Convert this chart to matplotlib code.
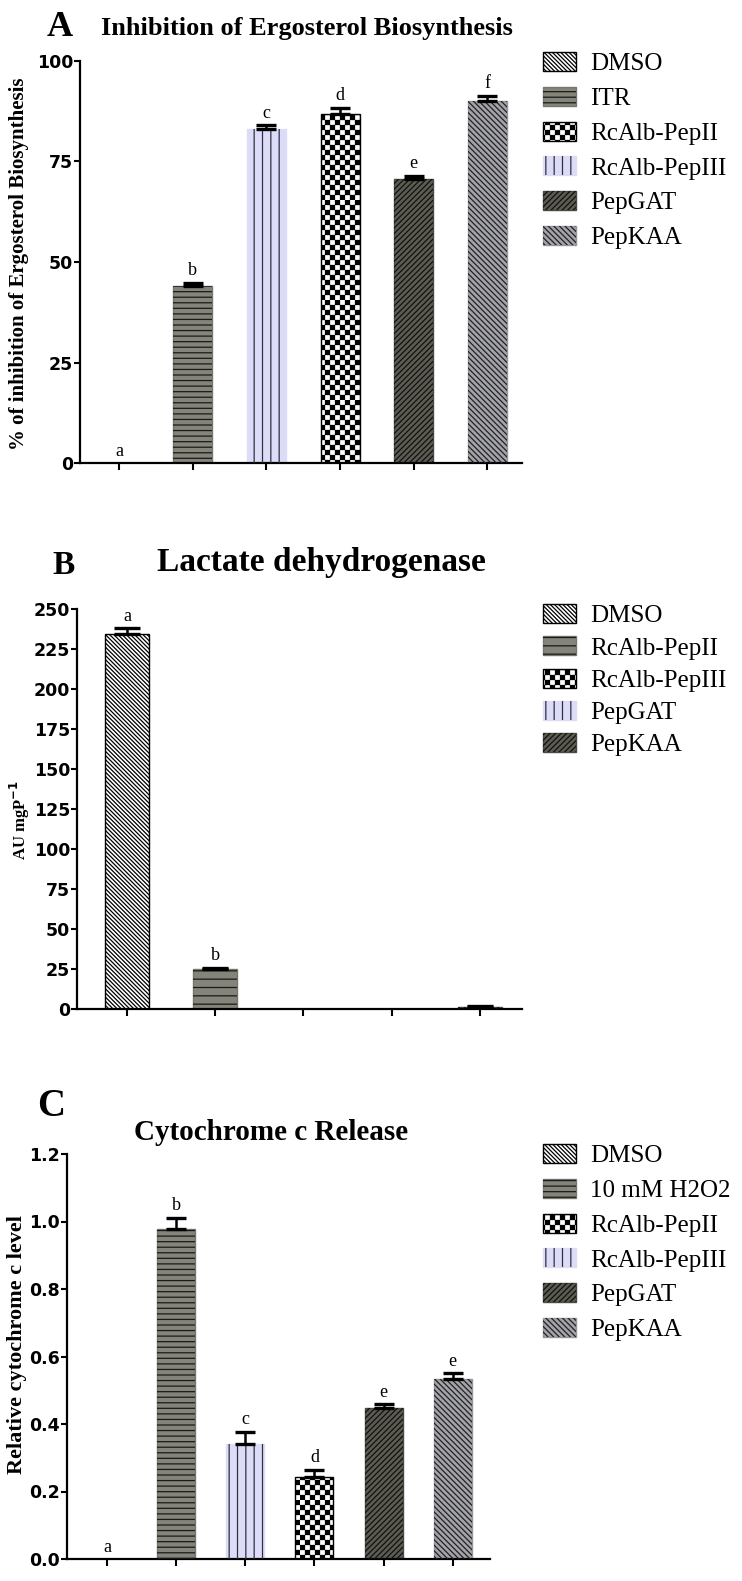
import numpy as np
import matplotlib
matplotlib.use('Agg')
import matplotlib.pyplot as plt
import matplotlib.hatch as mhatch
from matplotlib.path import Path
from matplotlib.patches import Patch
from matplotlib.legend_handler import HandlerTuple

plt.rcParams['hatch.linewidth'] = 0.9
plt.rcParams['font.family'] = ['Liberation Serif', 'DejaVu Serif']

# ---------------- data ----------------
a_title = 'Inhibition of Ergosterol Biosynthesis'
a_ylabel = '% of inhibition of Ergosterol Biosynthesis'
a_legend_labels = ['DMSO', 'ITR', 'RcAlb-PepII', 'RcAlb-PepIII', 'PepGAT', 'PepKAA']
a_legend_styles = ['white_diag', 'gray_horiz', 'checker', 'lavender_vert', 'dark_diag', 'light_diag']
a_bar_styles = ['white_diag', 'gray_horiz', 'lavender_vert', 'checker', 'dark_diag', 'light_diag']
a_values = [0.0, 44.0, 83.1, 86.8, 70.6, 90.1]
a_errors = [0.0, 0.8, 0.9, 1.6, 0.9, 1.3]
a_letters = ['a', 'b', 'c', 'd', 'e', 'f']
a_yticks = [0, 25, 50, 75, 100]

b_title = 'Lactate dehydrogenase'
b_ylabel = 'AU mgP$^{\\mathbf{-1}}$'
b_legend_labels = ['DMSO', 'RcAlb-PepII', 'RcAlb-PepIII', 'PepGAT', 'PepKAA']
b_legend_styles = ['white_diag', 'gray_horiz_sparse', 'checker', 'lavender_vert', 'dark_diag']
b_bar_styles = ['white_diag', 'gray_horiz_sparse', 'checker', 'lavender_vert', 'dark_diag']
b_values = [234.5, 24.8, 0.0, 0.0, 1.5]
b_errors = [3.5, 1.0, 0.0, 0.0, 0.3]
b_letters = ['a', 'b', '', '', '']
b_yticks = [0, 25, 50, 75, 100, 125, 150, 175, 200, 225, 250]

c_title = 'Cytochrome c Release'
c_ylabel = 'Relative cytochrome c level'
c_legend_labels = ['DMSO', '10 mM H2O2', 'RcAlb-PepII', 'RcAlb-PepIII', 'PepGAT', 'PepKAA']
c_legend_styles = ['white_diag', 'gray_horiz', 'checker', 'lavender_vert', 'dark_diag', 'light_diag']
c_bar_styles = ['white_diag', 'gray_horiz', 'lavender_vert', 'checker', 'dark_diag', 'light_diag']
c_values = [0.0, 0.977, 0.341, 0.244, 0.446, 0.532]
c_errors = [0.0, 0.034, 0.036, 0.020, 0.013, 0.018]
c_letters = ['a', 'b', 'c', 'd', 'e', 'e']
c_yticks = [0.0, 0.2, 0.4, 0.6, 0.8, 1.0, 1.2]


# ------------- checkerboard hatch (replaces '*') -------------
class CheckerHatch(mhatch.HatchPatternBase):
    def __init__(self, hatch, density):
        self.n = hatch.count('*') * 10
        self.cells = [(i, j) for i in range(self.n) for j in range(self.n)
                      if (i + j) % 2 == 0]
        self.num_vertices = len(self.cells) * 5

    def set_vertices_and_codes(self, vertices, codes):
        s = 1.0 / self.n
        d = 0.005
        k = 0
        for i, j in self.cells:
            x0, y0 = i * s + d, j * s + d
            x1, y1 = (i + 1) * s - d, (j + 1) * s - d
            vertices[k:k + 5] = [(x0, y0), (x1, y0), (x1, y1), (x0, y1), (x0, y0)]
            codes[k:k + 5] = [Path.MOVETO, Path.LINETO, Path.LINETO,
                              Path.LINETO, Path.CLOSEPOLY]
            k += 5


mhatch._hatch_types = [t for t in mhatch._hatch_types
                       if t is not mhatch.Stars] + [CheckerHatch]

STYLES = {
    'white_diag': dict(face='white', edge='black', lw=1.0, hatch='\\' * 8, hc='black'),
    'gray_horiz': dict(face='#84847a', edge='#77776d', lw=1.0, hatch='---', hc='#1a1a1a'),
    'gray_horiz_sparse': dict(face='#84847a', edge='#77776d', lw=1.0, hatch='--', hc='#1a1a1a'),
    'checker': dict(face='white', edge='black', lw=1.0, hatch='**', hc='black'),
    'lavender_vert': dict(face='#dcdcf8', edge='#dcdcf8', lw=1.0, hatch='||', hc='#303040'),
    'dark_diag': dict(face='#5c5c52', edge='#4a4a44', lw=1.0, hatch='/' * 6, hc='#111111'),
    'light_diag': dict(face='#a3a3aa', edge='#94949c', lw=1.0, hatch='\\' * 6, hc='#222222'),
}

W, H = 742, 1581
fig = plt.figure(figsize=(W / 100, H / 100), dpi=100)


def ax_px(l, r, t, b):
    return fig.add_axes([l / W, 1 - b / H, (r - l) / W, (b - t) / H])


def fx(x):
    return x / W


def fy(y):
    return 1 - y / H


def draw_panel(ax, values, errors, letters, bar_styles, width, xlim, ylim,
               yticks, fmt, capsize):
    x = np.arange(len(values))
    for xi, v, st in zip(x, values, bar_styles):
        s = STYLES[st]
        ax.bar(xi, v, width, color=s['face'], edgecolor=s['edge'],
               linewidth=s['lw'], zorder=2)
        ax.bar(xi, v, width, facecolor='none', edgecolor=s['hc'],
               hatch=s['hatch'], linewidth=0, zorder=3)
    err = np.array(errors)
    vals = np.array(values)
    m = err > 0
    ax.errorbar(x[m], vals[m], yerr=[np.zeros(m.sum()), err[m]], fmt='none',
                ecolor='black', elinewidth=1.8, capsize=capsize, capthick=2.4,
                zorder=4)
    for xi, v, e, t in zip(x, values, errors, letters):
        if t:
            ax.annotate(t, (xi, v + e), xytext=(0, 2.5), textcoords='offset points',
                        ha='center', va='bottom', fontsize=13,
                        family='Liberation Serif')
    ax.set_xlim(*xlim)
    ax.set_ylim(*ylim)
    ax.set_xticks(x)
    ax.set_yticks(yticks)
    ax.set_yticklabels([fmt(t) for t in yticks], fontfamily='DejaVu Sans',
                       fontweight='bold', fontsize=12.5)
    ax.spines[['top', 'right']].set_visible(False)
    for sp in ['left', 'bottom']:
        ax.spines[sp].set_linewidth(1.6)
    ax.tick_params(axis='y', direction='out', length=4, width=1.5, pad=1)
    ax.tick_params(axis='x', direction='out', length=5, width=1.5,
                   labelbottom=False)


def add_legend(labels, styles, x, y, spacing):
    handles = []
    for st in styles:
        s = STYLES[st]
        p1 = Patch(facecolor=s['face'], edgecolor=s['edge'], linewidth=s['lw'])
        p2 = Patch(facecolor='none', edgecolor=s['hc'], hatch=s['hatch'],
                   linewidth=0)
        handles.append((p1, p2))
    fig.legend(handles, labels, loc='upper left',
               bbox_to_anchor=(fx(x), fy(y)), frameon=False,
               prop={'family': 'Liberation Serif', 'size': 18},
               handlelength=1.3, handleheight=0.8, handletextpad=0.6,
               labelspacing=spacing, borderaxespad=0, borderpad=0,
               handler_map={tuple: HandlerTuple(ndivide=1, pad=0)})


# Panel A
axA = ax_px(80, 522, 61, 463)
draw_panel(axA, a_values, a_errors, a_letters, a_bar_styles, 0.53,
           (-0.53, 5.47), (0, 100), a_yticks, lambda t: f'{t:d}', 7.5)
fig.text(fx(60), fy(28), 'A', fontsize=26, fontweight='bold', ha='center', va='center')
fig.text(fx(307), fy(28), a_title, fontsize=19, fontweight='bold', ha='center', va='center')
fig.text(fx(19), fy(264), a_ylabel, fontsize=15, fontweight='bold', rotation=90,
         ha='center', va='center')
add_legend(a_legend_labels, a_legend_styles, 543, 52, 0.46)

# Panel B
axB = ax_px(77, 522, 609, 1009)
draw_panel(axB, b_values, b_errors, b_letters, b_bar_styles, 0.5,
           (-0.57, 4.48), (0, 250), b_yticks, lambda t: f'{t:d}', 9.5)
fig.text(fx(64), fy(565), 'B', fontsize=24, fontweight='bold', ha='center', va='center')
fig.text(fx(321), fy(563), b_title, fontsize=24, fontweight='bold', ha='center', va='center')
fig.text(fx(20), fy(820), b_ylabel, fontsize=12, fontweight='bold', rotation=90,
         ha='center', va='center')
add_legend(b_legend_labels, b_legend_styles, 543, 604, 0.36)

# Panel C
axC = ax_px(67, 490, 1154, 1559)
draw_panel(axC, c_values, c_errors, c_letters, c_bar_styles, 0.55,
           (-0.58, 5.54), (0, 1.2), c_yticks, lambda t: f'{t:.1f}', 7.2)
fig.text(fx(51), fy(1107), 'C', fontsize=28, fontweight='bold', ha='center', va='center')
fig.text(fx(271), fy(1133), c_title, fontsize=21, fontweight='bold', ha='center', va='center')
fig.text(fx(17), fy(1345), c_ylabel, fontsize=16, fontweight='bold', rotation=90,
         ha='center', va='center')
add_legend(c_legend_labels, c_legend_styles, 543, 1144, 0.46)

fig.savefig('out.png', dpi=100)
